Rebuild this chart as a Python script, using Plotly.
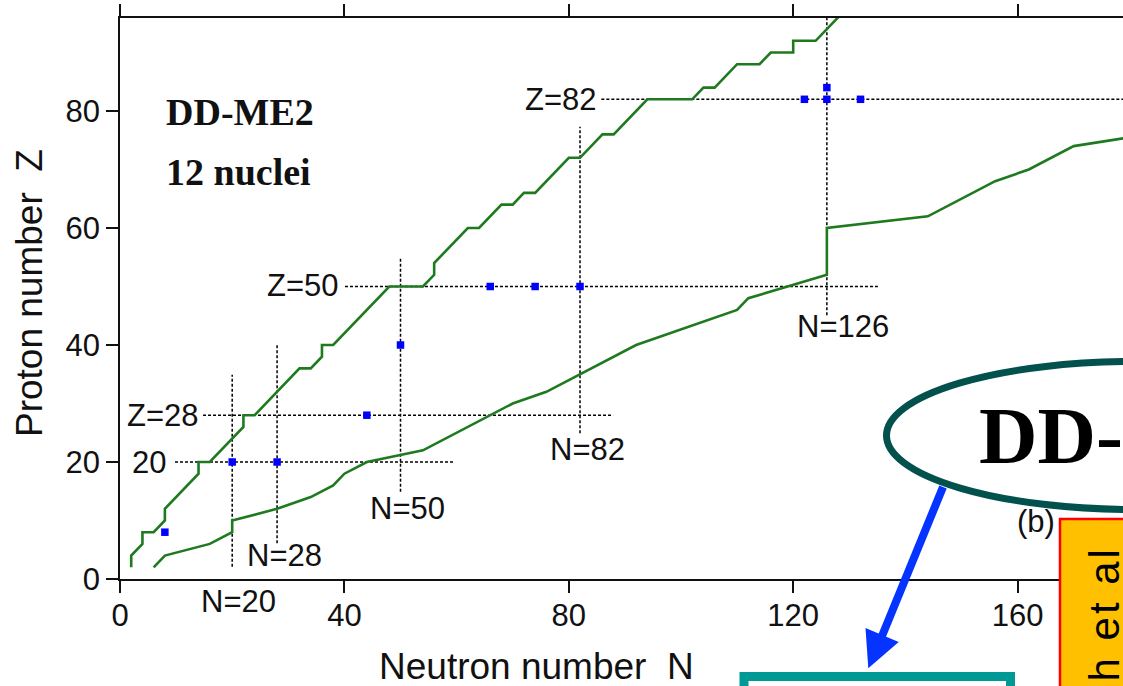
import plotly.graph_objects as go

# ---------------- data ----------------
# proton drip line (upper green curve)
p_drip_N = [2, 2, 4, 4, 6, 8, 8, 14, 14, 16, 22, 22, 24, 32, 34, 36, 36, 38, 48, 54,
            56, 56, 62, 64, 68, 70, 72, 74, 80, 82, 86, 88, 94, 102, 104, 106, 110, 114, 116, 120,
            120, 124, 130]
p_drip_Z = [2, 4, 6, 8, 8, 10, 12, 18, 20, 20, 26, 28, 28, 36, 36, 38, 40, 40, 50, 50,
            52, 54, 60, 60, 64, 64, 66, 66, 72, 72, 76, 76, 82, 82, 84, 84, 88, 88, 90, 90,
            92, 92, 98]
# neutron drip line (lower green curve)
n_drip_N = [6, 8, 16, 20, 20, 28, 34, 38, 40, 44, 54, 70, 76, 92, 110, 112, 126, 126, 144, 156, 162, 170, 180]
n_drip_Z = [2, 4, 6, 8, 10, 12, 14, 16, 18, 20, 22, 30, 32, 40, 46, 48, 52, 60, 62, 68, 70, 74, 75.5]
# 12 nuclei used in the fit
nuclei_N = [8, 20, 28, 44, 50, 66, 74, 82, 122, 126, 132, 126]
nuclei_Z = [8, 20, 20, 28, 40, 50, 50, 50, 82, 82, 82, 84]

# magic-number guide lines
magic_Z = [82, 50, 28, 20]
magic_Z_from = [85.8, 40.1, 14.8, 9.8]
magic_Z_to = [185, 135.1, 87.9, 59.4]
magic_N = [20, 28, 50, 82, 126]
magic_N_from = [2.1, 6.1, 14.9, 24.9, 45.1]
magic_N_to = [34.9, 40.3, 54.8, 77.3, 99]

x_ticks = [0, 40, 80, 120, 160]
y_ticks = [0, 20, 40, 60, 80]

# ---------------- layout geometry ----------------
W, H = 1123, 686
L, R, T, B = 120, 0, 18, 107
PW, PH = W - L - R, H - T - B


def PX(x):
    return (x - L) / PW


def PY(y):
    return (H - B - y) / PH


SANS = "Liberation Sans, Arial, sans-serif"
SERIF = "Liberation Serif, Times New Roman, serif"
GREEN = "#1f7a1f"

fig = go.Figure()

for z, a, b in zip(magic_Z, magic_Z_from, magic_Z_to):
    fig.add_trace(go.Scatter(x=[a, b], y=[z, z], mode="lines", hoverinfo="skip",
                             line=dict(color="#000", width=1.5, dash="3px,2px")))
for n, a, b in zip(magic_N, magic_N_from, magic_N_to):
    fig.add_trace(go.Scatter(x=[n, n], y=[a, b], mode="lines", hoverinfo="skip",
                             line=dict(color="#000", width=1.5, dash="3px,2px")))

fig.add_trace(go.Scatter(x=p_drip_N, y=p_drip_Z, mode="lines", line=dict(color=GREEN, width=2.6)))
fig.add_trace(go.Scatter(x=n_drip_N, y=n_drip_Z, mode="lines", line=dict(color=GREEN, width=2.6)))
fig.add_trace(go.Scatter(x=nuclei_N, y=nuclei_Z, mode="markers",
                         marker=dict(symbol="square", size=7.5, color="#0000ff", line=dict(width=0))))

ann = []


def label(text, x, y, xa="center", ya="middle", size=31, font=SANS, color="#111", angle=0):
    ann.append(dict(text=text, x=PX(x), y=PY(y), xref="paper", yref="paper", xanchor=xa, yanchor=ya,
                    showarrow=False, textangle=angle, font=dict(family=font, size=size, color=color)))


# magic labels
label("Z=82", 599, 99, xa="right")
label("Z=50", 341, 286, xa="right")
label("Z=28", 201, 415, xa="right")
label("20", 168, 462, xa="right")
label("N=20", 238.5, 601)
label("N=28", 284, 555)
label("N=50", 407.5, 508)
label("N=82", 587.5, 449)
label("N=126", 842.5, 326)
# model text
label("<b>DD-ME2</b>", 164, 112, xa="left", size=38, font=SERIF)
label("<b>12 nuclei</b>", 164, 172, xa="left", size=38, font=SERIF)
# axis titles
label("Neutron number\u00a0\u00a0N", 536, 667, size=37)
label("Proton number\u00a0\u00a0Z", 29, 293, size=37, angle=-90)
# panel label
label("(b)", 1057, 521, xa="right")

shapes = []
# blue arrow
shapes.append(dict(type="line", xref="paper", yref="paper", x0=PX(943), y0=PY(487), x1=PX(882), y1=PY(636),
                   line=dict(color="#0533ff", width=8)))
shapes.append(dict(type="path", xref="paper", yref="paper",
                   path=f"M{PX(868.3)},{PY(668.3)} L{PX(898.7)},{PY(641.9)} L{PX(865.5)},{PY(628.1)} Z",
                   fillcolor="#0533ff", line=dict(width=0)))
# ellipse
shapes.append(dict(type="circle", xref="paper", yref="paper", x0=PX(886.5), x1=PX(1383.5),
                   y0=PY(509.5), y1=PY(361.5), fillcolor="white", line=dict(color="#02514d", width=7)))
# teal box
shapes.append(dict(type="rect", xref="paper", yref="paper", x0=PX(744), x1=PX(1010.5),
                   y0=PY(780), y1=PY(676.5), fillcolor="white", line=dict(color="#009995", width=9)))
# orange box
shapes.append(dict(type="rect", xref="paper", yref="paper", x0=PX(1060), x1=PX(1250),
                   y0=PY(800), y1=PY(519), fillcolor="#ffc000", line=dict(color="#ff0000", width=2.5)))

label("<b>DD-ME2</b>", 977, 436, xa="left", size=81, font=SERIF, color="#000")
ann.append(dict(text='<span style="letter-spacing:3px">h et al</span>', x=PX(1104), y=PY(545),
                xref="paper", yref="paper", xanchor="center", yanchor="top", showarrow=False,
                textangle=-90, font=dict(family=SANS, size=42, color="#000")))

axis_common = dict(showgrid=False, zeroline=False, showline=True, linecolor="#111", linewidth=1.5,
                   ticks="outside", ticklen=12, tickwidth=1.5, tickcolor="#111",
                   tickfont=dict(family=SANS, size=31, color="#111"))

fig.update_layout(
    width=W, height=H, margin=dict(l=L, r=R, t=T, b=B, autoexpand=False),
    paper_bgcolor="white", plot_bgcolor="white", showlegend=False,
    xaxis=dict(range=[0, PW / 5.61], tickvals=x_ticks, mirror="ticks", ticklabelstandoff=-4, **axis_common),
    yaxis=dict(range=[0, PH / 5.85], tickvals=y_ticks, mirror=False, **axis_common),
    annotations=ann, shapes=shapes,
)

fig.write_html("out.html")
